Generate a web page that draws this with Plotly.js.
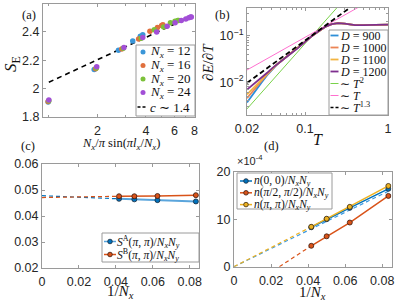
<!DOCTYPE html>
<html><head><meta charset="utf-8">
<script src="https://cdn.plot.ly/plotly-3.0.1.min.js"></script>
<style>html,body{margin:0;padding:0;background:#fff}#chart{width:397px;height:304px}</style>
</head><body><div id="chart"></div>
<script>
// ---------- panel (a) data ----------
const chord12 = [0.99, 1.91, 2.70, 3.31, 3.69, 3.82];
const se12 = [1.905, 2.135, 2.27, 2.335, 2.37, 2.38];
const chord16 = [0.99, 1.95, 2.83, 3.60, 4.23, 4.71, 5.00, 5.09];
const se16 = [1.91, 2.14, 2.28, 2.35, 2.405, 2.43, 2.445, 2.45];
const chord20 = [1.00, 1.97, 2.89, 3.74, 4.50, 5.15, 5.67, 6.05, 6.29, 6.37];
const se20 = [1.915, 2.145, 2.285, 2.355, 2.415, 2.435, 2.465, 2.475, 2.48, 2.48];
const chord24 = [1.00, 1.98, 2.92, 3.82, 4.66, 5.41, 6.06, 6.62, 7.06, 7.37, 7.56, 7.64];
const se24 = [1.92, 2.155, 2.29, 2.36, 2.40, 2.44, 2.465, 2.48, 2.49, 2.50, 2.505, 2.505];
const fitChord = [1.0, 8.0];
const fitSE = [2.045, 2.52];
const nxLabels = ['12', '16', '20', '24'];

// ---------- panel (b) data ----------
const temps = [0.02, 0.0225, 0.025, 0.0275, 0.03, 0.035, 0.04, 0.045, 0.05, 0.06, 0.07, 0.08, 0.1, 0.12, 0.15, 0.18, 0.21, 0.25, 0.3, 0.35, 0.4, 0.5, 0.6, 0.7, 0.8, 0.9, 1.0];
const cD900  = [0.0037, 0.0050, 0.0065, 0.0082, 0.0100, 0.0142, 0.0188, 0.0232, 0.0272, 0.0352, 0.0435, 0.052, 0.074, 0.097, 0.128, 0.158, 0.176, 0.185, 0.180, 0.172, 0.168, 0.168, 0.170, 0.171, 0.172, 0.172, 0.172];
const cD1000 = [0.0046, 0.0060, 0.0075, 0.0091, 0.0108, 0.0148, 0.0192, 0.0234, 0.0272, 0.0352, 0.0435, 0.052, 0.074, 0.097, 0.128, 0.158, 0.176, 0.185, 0.180, 0.172, 0.168, 0.168, 0.170, 0.171, 0.172, 0.172, 0.172];
const cD1100 = [0.0055, 0.0069, 0.0084, 0.0099, 0.0115, 0.0153, 0.0195, 0.0235, 0.0272, 0.0352, 0.0435, 0.052, 0.074, 0.097, 0.128, 0.158, 0.176, 0.185, 0.180, 0.172, 0.168, 0.168, 0.170, 0.171, 0.172, 0.172, 0.172];
const cD1200 = [0.0070, 0.0083, 0.0097, 0.0111, 0.0125, 0.0160, 0.0199, 0.0237, 0.0273, 0.0353, 0.0436, 0.0521, 0.074, 0.097, 0.128, 0.158, 0.176, 0.185, 0.180, 0.172, 0.168, 0.168, 0.170, 0.171, 0.172, 0.172, 0.172];
const dLabels = ['900', '1000', '1100', '1200'];
const refT2x = [0.02, 0.25], refT2y = [0.0027, 0.42];
const refT1x = [0.02, 0.45], refT1y = [0.0184, 0.414];
const refT13x = [0.02, 0.4], refT13y = [0.0097, 0.476];

// ---------- panel (c) data ----------
const invNx = [0.0417, 0.05, 0.0625, 0.0833];
const sA = [0.0466, 0.0464, 0.0461, 0.0456];
const sB = [0.0476, 0.0476, 0.0477, 0.0480];
const fitInvNx = [0, 0.0417];
const sAfit = [0.0478, 0.0466];
const sBfit = [0.0471, 0.0476];

// ---------- panel (d) data (units of 1e-4) ----------
const n00 = [8.3, 10.0, 12.4, 16.4];
const nHalf = [4.4, 6.4, 9.3, 14.9];
const nPi = [8.4, 10.1, 12.6, 17.0];
const n00fitX = [0, 0.0833], n00fitY = [0, 15.9];
const nPifitX = [0, 0.0417], nPifitY = [0, 8.4];
const nHalffitX = [0.0245, 0.0417], nHalffitY = [0, 4.4];

// ---------- styling ----------
const W = 397, H = 304;
const PX = x => x / W, PY = y => 1 - y / H;
const SERIF = 'Liberation Serif, Times New Roman, serif';
const SANS = 'Liberation Sans, Arial, sans-serif';
const AXC = '#9a9a9a';
const colA = ['#3b96d8', '#e0703e', '#7cc13a', '#a24fd6'];
const colB = ['#2e8fd8', '#ec8556', '#f2b441', '#7e2f8e'];
const mBlue = '#0072bd', mOrange = '#d95319', mYellow = '#edb120';

const traces = [];
// (a)
const chordArr = [chord12, chord16, chord20, chord24];
const seArr = [se12, se16, se20, se24];
traces.push({x: fitChord, y: fitSE, xaxis: 'x', yaxis: 'y', mode: 'lines', line: {color: '#000', width: 1.6, dash: '5px,4px'}, hoverinfo: 'skip'});
for (let i = 0; i < 4; i++) {
  traces.push({x: chordArr[i], y: seArr[i], xaxis: 'x', yaxis: 'y', mode: 'markers', name: 'N_x=' + nxLabels[i],
    marker: {size: 5.5, color: colA[i]}});
}
// (b)
const cArr = [cD900, cD1000, cD1100, cD1200];
traces.push({x: refT2x, y: refT2y, xaxis: 'x2', yaxis: 'y2', mode: 'lines', line: {color: '#79d24a', width: 1}});
traces.push({x: refT1x, y: refT1y, xaxis: 'x2', yaxis: 'y2', mode: 'lines', line: {color: '#ff6fcf', width: 1}});
for (let i = 0; i < 4; i++) {
  traces.push({x: temps, y: cArr[i], xaxis: 'x2', yaxis: 'y2', mode: 'lines', name: 'D=' + dLabels[i], line: {color: colB[i], width: 1.8}});
}
traces.push({x: refT13x, y: refT13y, xaxis: 'x2', yaxis: 'y2', mode: 'lines', line: {color: '#000', width: 1.8, dash: '5px,3px'}});
// (c)
traces.push({x: fitInvNx, y: sAfit, xaxis: 'x3', yaxis: 'y3', mode: 'lines', line: {color: mBlue, width: 1.2, dash: '4px,3px'}});
traces.push({x: fitInvNx, y: sBfit, xaxis: 'x3', yaxis: 'y3', mode: 'lines', line: {color: mOrange, width: 1.2, dash: '4px,3px'}});
traces.push({x: invNx, y: sA, xaxis: 'x3', yaxis: 'y3', mode: 'lines+markers', line: {color: '#5aa5dc', width: 2},
  marker: {size: 5, color: mBlue, line: {color: '#1b2a3a', width: 0.8}}});
traces.push({x: invNx, y: sB, xaxis: 'x3', yaxis: 'y3', mode: 'lines+markers', line: {color: mOrange, width: 1.5},
  marker: {size: 5, color: mOrange, line: {color: '#3a1a10', width: 0.8}}});
// (d)
traces.push({x: n00fitX, y: n00fitY, xaxis: 'x4', yaxis: 'y4', mode: 'lines', line: {color: '#3d9ae0', width: 1.2, dash: '4px,3px'}});
traces.push({x: nPifitX, y: nPifitY, xaxis: 'x4', yaxis: 'y4', mode: 'lines', line: {color: mYellow, width: 1.2, dash: '4px,3px'}});
traces.push({x: nHalffitX, y: nHalffitY, xaxis: 'x4', yaxis: 'y4', mode: 'lines', line: {color: mOrange, width: 1.2, dash: '4px,3px'}});
traces.push({x: invNx, y: n00, xaxis: 'x4', yaxis: 'y4', mode: 'lines+markers', line: {color: mBlue, width: 1.5},
  marker: {size: 5, color: mBlue, line: {color: '#1b2a3a', width: 0.8}}});
traces.push({x: invNx, y: nHalf, xaxis: 'x4', yaxis: 'y4', mode: 'lines+markers', line: {color: mOrange, width: 1.5},
  marker: {size: 5, color: mOrange, line: {color: '#3a1a10', width: 0.8}}});
traces.push({x: invNx, y: nPi, xaxis: 'x4', yaxis: 'y4', mode: 'lines+markers', line: {color: mYellow, width: 1.5},
  marker: {size: 5, color: mYellow, line: {color: '#3a2a10', width: 0.8}}});

// ---------- axes ----------
function ax(extra) {
  return Object.assign({showline: true, linecolor: AXC, linewidth: 1, mirror: 'ticks', ticks: 'inside', ticklen: 3,
    tickcolor: AXC, showgrid: false, zeroline: false, tickfont: {family: SANS, size: 12.5, color: '#262626'}, fixedrange: true}, extra);
}
const layout = {
  width: W, height: H, margin: {l: 0, r: 0, t: 0, b: 0}, showlegend: false,
  paper_bgcolor: '#fff', plot_bgcolor: '#fff',
  xaxis: ax({domain: [PX(43), PX(195)], anchor: 'y', type: 'log', range: [Math.log10(0.92), Math.log10(8.05)],
    tickmode: 'array', tickvals: [2, 4, 6, 8], ticktext: ['2', '4', '6', '8'], ticklabelstandoff: 2,
    minor: {tickmode: 'array', tickvals: [1, 3, 5, 7], ticks: 'inside', ticklen: 2, tickcolor: AXC}}),
  yaxis: ax({domain: [PY(117), PY(3.5)], anchor: 'x', range: [1.8, 2.6], tickmode: 'array',
    tickvals: [1.8, 2, 2.2, 2.4], ticktext: ['1.8', '2', '2.2', '2.4']}),
  xaxis2: ax({domain: [PX(247), PX(388)], anchor: 'y2', type: 'log', range: [Math.log10(0.02), 0],
    tickmode: 'array', tickvals: [0.02, 0.1, 1], ticktext: ['0.02', '0.1', '1'], ticklabelstandoff: 2,
    minor: {tickmode: 'array', tickvals: [0.03, 0.04, 0.05, 0.06, 0.07, 0.08, 0.09, 0.2, 0.3, 0.4, 0.5, 0.6, 0.7, 0.8, 0.9], ticks: 'inside', ticklen: 2, tickcolor: AXC}}),
  yaxis2: ax({domain: [PY(115), PY(7.5)], anchor: 'x2', type: 'log', range: [Math.log10(0.002), Math.log10(0.4)],
    tickmode: 'array', tickvals: [0.01, 0.1], ticktext: ['10<sup>−2</sup>', '10<sup>−1</sup>'],
    minor: {tickmode: 'array', tickvals: [0.003, 0.004, 0.005, 0.006, 0.007, 0.008, 0.009, 0.02, 0.03, 0.04, 0.05, 0.06, 0.07, 0.08, 0.09, 0.2, 0.3], ticks: 'inside', ticklen: 2, tickcolor: AXC}}),
  xaxis3: ax({domain: [PX(42), PX(199)], anchor: 'y3', range: [0, 0.085], tickmode: 'array', ticklabelstandoff: 2,
    tickvals: [0, 0.02, 0.04, 0.06, 0.08], ticktext: ['0', '0.02', '0.04', '0.06', '0.08']}),
  yaxis3: ax({domain: [PY(268), PY(164)], anchor: 'x3', range: [0.02, 0.06], tickmode: 'array',
    tickvals: [0.02, 0.03, 0.04, 0.05, 0.06], ticktext: ['0.02', '0.03', '0.04', '0.05', '0.06']}),
  xaxis4: ax({domain: [PX(234), PX(391.5)], anchor: 'y4', range: [0, 0.085], tickmode: 'array', ticklabelstandoff: 2,
    tickvals: [0, 0.02, 0.04, 0.06, 0.08], ticktext: ['0', '0.02', '0.04', '0.06', '0.08']}),
  yaxis4: ax({domain: [PY(266.7), PY(171.7)], anchor: 'x4', range: [0, 20], tickmode: 'array',
    tickvals: [0, 10, 20], ticktext: ['0', '10', '20']}),
  shapes: [], annotations: []
};

function txt(x, y, text, size, opts) {
  layout.annotations.push(Object.assign({xref: 'paper', yref: 'paper', x: PX(x), y: PY(y), text: text, showarrow: false,
    xanchor: 'center', yanchor: 'middle', borderpad: 0, font: {family: SERIF, size: size, color: '#111'}}, opts || {}));
}
function box(x0, y0, x1, y1) {
  layout.shapes.push({type: 'rect', xref: 'paper', yref: 'paper', layer: 'above', x0: PX(x0), x1: PX(x1), y0: PY(y1), y1: PY(y0),
    line: {color: AXC, width: 1}, fillcolor: '#fff'});
}
function seg(x0, x1, y, color, width, dash) {
  layout.shapes.push({type: 'line', xref: 'paper', yref: 'paper', layer: 'above', x0: PX(x0), x1: PX(x1), y0: PY(y), y1: PY(y),
    line: {color: color, width: width, dash: dash || 'solid'}});
}
function dot(cx, cy, r, color, edge) {
  layout.shapes.push({type: 'circle', xref: 'paper', yref: 'paper', layer: 'above', x0: PX(cx - r), x1: PX(cx + r), y0: PY(cy + r), y1: PY(cy - r),
    fillcolor: color, line: {color: edge || color, width: edge ? 0.8 : 0}});
}

// panel labels
txt(29, 15, '(a)', 12.5); txt(222, 15, '(b)', 12.5); txt(28, 146, '(c)', 12.5); txt(271, 146, '(d)', 12.5);
// axis titles
txt(12, 64, '<i>S</i><sub>E</sub>', 17, {textangle: -90});
txt(121, 144, '<i>N<sub>x</sub></i>/<i>π</i> sin(<i>πl<sub>x</sub></i>/<i>N<sub>x</sub></i>)', 12.5);
txt(208, 62, '∂<i>E</i>/∂<i>T</i>', 15, {textangle: -90});
txt(318, 139, '<i>T</i>', 16);
txt(120, 292, '1/<i>N<sub>x</sub></i>', 15);
txt(312, 293, '1/<i>N<sub>x</sub></i>', 15);
txt(236, 160, '×10<sup>-4</sup>', 11, {xanchor: 'left', font: {family: SANS, size: 11, color: '#262626'}});

// legend (a)
box(136, 45, 195, 116);
const legAy = [52, 65.5, 79, 92.5];
for (let i = 0; i < 4; i++) {
  dot(143, legAy[i], 2.5, colA[i]);
  txt(148.5, legAy[i], '<i>N<sub>x</sub></i> = ' + nxLabels[i], 13, {xanchor: 'left'});
}
seg(137.5, 147.5, 107, '#000', 1.5, '3px,2px');
txt(148.5, 107, '<i>c</i> ∼ 1.4', 13, {xanchor: 'left'});

// legend (b)
box(329, 30, 388, 115);
const legB = [
  ['<i>D</i> = 900', colB[0], 'solid'], ['<i>D</i> = 1000', colB[1], 'solid'], ['<i>D</i> = 1100', colB[2], 'solid'],
  ['<i>D</i> = 1200', colB[3], 'solid'], ['∼ <i>T</i><sup>2</sup>', '#79d24a', 'solid'], ['∼ <i>T</i>', '#ff6fcf', 'solid'],
  ['∼ <i>T</i><sup>1.3</sup>', '#000', '3px,2px']];
legB.forEach((e, i) => {
  const y = 35.5 + 12 * i;
  seg(330.5, 338.5, y, e[1], i < 4 ? 1.8 : (i === 6 ? 1.6 : 1), e[2]);
  txt(339, y, e[0], 12, {xanchor: 'left'});
});

// legend (c)
box(102, 233, 199, 262);
seg(104, 116, 241.5, '#5aa5dc', 1.5); dot(110, 241.5, 2.3, mBlue, '#1b2a3a');
txt(116, 241.5, '<i>S</i><sup>A</sup>(<i>π</i>, <i>π</i>)/<i>N<sub>x</sub>N<sub>y</sub></i>', 11.5, {xanchor: 'left'});
seg(104, 116, 254.5, mOrange, 1.5); dot(110, 254.5, 2.3, mOrange, '#3a1a10');
txt(116, 254.5, '<i>S</i><sup>B</sup>(<i>π</i>, <i>π</i>)/<i>N<sub>x</sub>N<sub>y</sub></i>', 11.5, {xanchor: 'left'});

// legend (d)
box(237, 173, 332, 209);
const legD = [
  ['<i>n</i>(0, 0)/<i>N<sub>x</sub>N<sub>y</sub></i>', mBlue, '#1b2a3a'],
  ['<i>n</i>(<i>π</i>/2, <i>π</i>/2)/<i>N<sub>x</sub>N<sub>y</sub></i>', mOrange, '#3a1a10'],
  ['<i>n</i>(<i>π</i>, <i>π</i>)/<i>N<sub>x</sub>N<sub>y</sub></i>', mYellow, '#3a2a10']];
legD.forEach((e, i) => {
  const y = 181 + 11.8 * i;
  seg(240, 252, y, e[1], 1.5); dot(246, y, 2.3, e[1], e[2]);
  txt(252.5, y, e[0], 11.5, {xanchor: 'left'});
});

Plotly.newPlot('chart', traces, layout, {displayModeBar: false, staticPlot: true});
</script></body></html>
